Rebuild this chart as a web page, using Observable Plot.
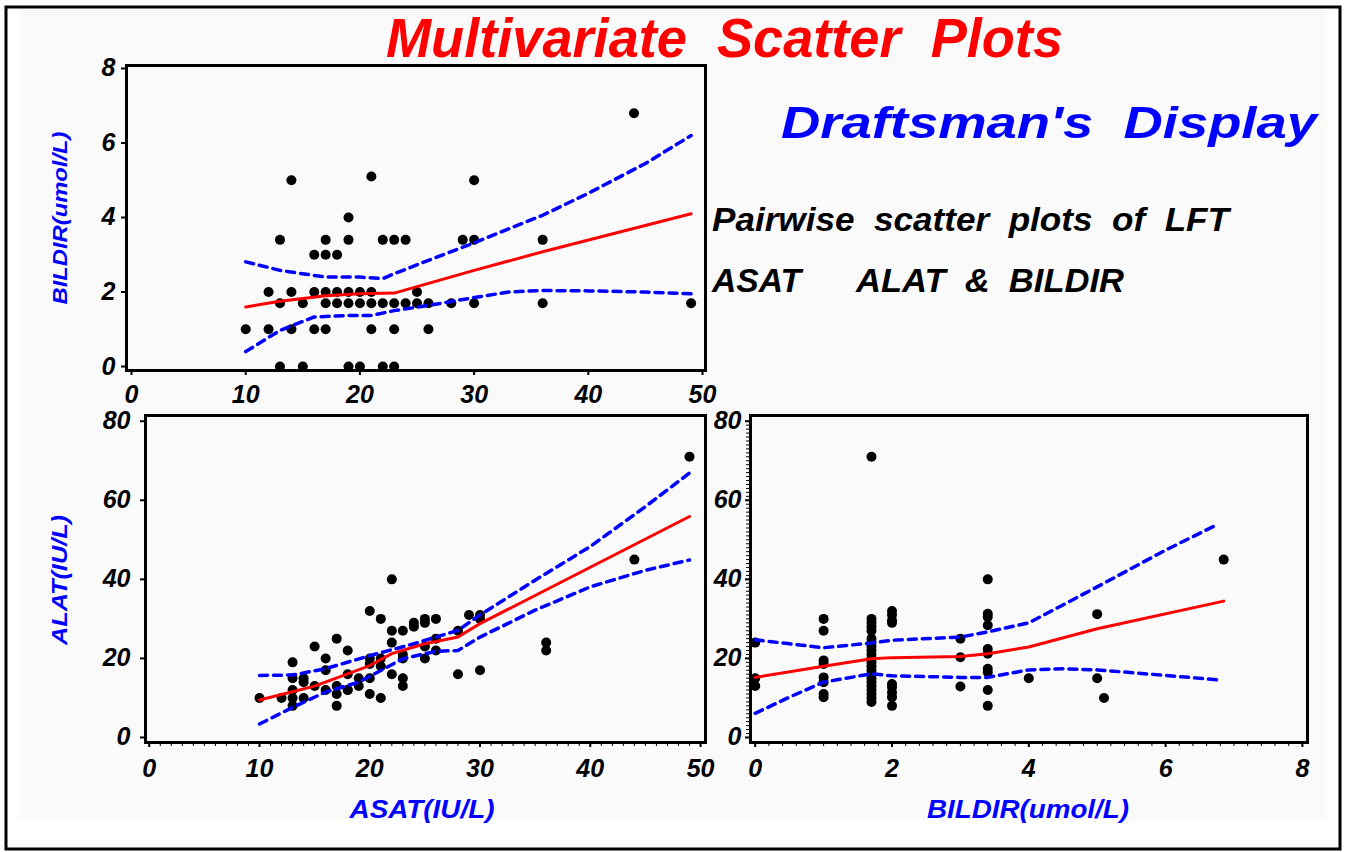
<!DOCTYPE html>
<html><head><meta charset="utf-8">
<script src="https://cdn.jsdelivr.net/npm/d3@7"></script>
<script src="https://cdn.jsdelivr.net/npm/@observablehq/plot@0.6"></script>
<style>
body{margin:0;background:#fff;}
#page{position:relative;width:1345px;height:852px;overflow:hidden;background:#fff;}
#page svg{position:absolute;}
#page svg.panel text{font-size:25px !important;font-weight:bold !important;font-style:italic !important;font-family:'Liberation Sans',Arial,sans-serif !important;fill:#000 !important;}
</style></head><body><div id="page"></div>
<script>
// ---------- DATA ----------
// Panel 1: ASAT (x) vs BILDIR (y)
const p1_asat   = [44, 14,30, 21, 19,
  13,17,19,22,23,24,29,30,36,
  16,17,18,
  12,14,16,17,18,19,20,21,25,
  13,15,17,18,19,20,21,22,23,24,25,26,28,30,36,49,
  10,12,14,16,17,21,23,26,
  13,15,19,20,22,23];
const p1_bildir = [6.8, 5.0,5.0, 5.1, 4.0,
  3.4,3.4,3.4,3.4,3.4,3.4,3.4,3.4,3.4,
  3.0,3.0,3.0,
  2.0,2.0,2.0,2.0,2.0,2.0,2.0,2.0,2.0,
  1.7,1.7,1.7,1.7,1.7,1.7,1.7,1.7,1.7,1.7,1.7,1.7,1.7,1.7,1.7,1.7,
  1.0,1.0,1.0,1.0,1.0,1.0,1.0,1.0,
  0,0,0,0,0,0];
const p1_fitX   = [10, 13, 17, 20, 23, 30, 36, 49];
const p1_fitY   = [1.6, 1.75, 1.9, 1.95, 1.97, 2.58, 3.08, 4.1];
const p1_upX    = [10, 13, 17, 20, 22, 23, 26, 30, 36, 40, 45, 49];
const p1_upY    = [2.81, 2.58, 2.4, 2.4, 2.36, 2.49, 2.85, 3.32, 4.06, 4.65, 5.45, 6.2];
const p1_loX    = [10, 13, 16, 19, 21, 23, 26, 30, 33, 36, 40, 45, 49];
const p1_loY    = [0.4, 0.97, 1.33, 1.37, 1.37, 1.5, 1.64, 1.85, 2.0, 2.04, 2.03, 2.0, 1.95];

// Panel 2: ASAT (x) vs ALAT (y)
const p2_asat = [49,44,22,20,21,29,30,30,26,25,25,24,24,23,22,28,26,22,36,36,15,17,18,16,13,
  20,20,21,21,23,23,25,25,26,28,30,22,23,23,20,19,19,18,18,18,17,17,17,16,16,15,
  14,14,14,13,13,13,13,12,10,20,21];
const p2_alat = [71,45,40,32,30,31,31,30,30,30,29,29,28,27,27,27,25,24,24,22,23,25,22,20,19,
  20,18.6,20,18,21,20,23,20,22,16,17,16,15,13,15,15,13,16,12,12,13,11,8,17,12,13,
  15,14,10,15,12,10,8,10,10,11,10];
const p2_fitX = [10, 15, 20, 22, 25, 28, 30, 49];
const p2_fitY = [9.5, 13, 18.2, 21.2, 23.7, 25.4, 28.8, 55.9];
const p2_upX  = [10, 13, 16, 20, 24, 28, 30, 35, 40, 45, 49];
const p2_upY  = [15.7, 15.8, 17.4, 20.7, 23.7, 27.1, 31.0, 39.8, 48.3, 58.4, 66.9];
const p2_loX  = [10, 13, 16, 19, 23, 26, 28, 30, 35, 40, 45, 49];
const p2_loY  = [3.4, 7.6, 11.5, 14, 19.9, 21.8, 22, 25.4, 32.2, 38.1, 42.3, 44.9];

// Panel 3: BILDIR (x) vs ALAT (y)
const p3_bildir = [0,0,0,
  1,1,1,1,1,1,1,1,
  1.7,1.7,1.7,1.7,1.7,1.7,1.7,1.7,1.7,1.7,1.7,1.7,1.7,1.7,1.7,1.7,1.7,1.7,1.7,1.7,1.7,1.7,
  2,2,2,2,2,2,2,2,2,
  3,3,3,
  3.4,3.4,3.4,3.4,3.4,3.4,3.4,3.4,3.4,3.4,
  4,5,5,5.1,6.85];
const p3_alat = [24,15,13,
  30,27,19.5,18.6,15.2,14,11,10.2,
  71,30,29,28,27,25,24,23,22,21,20,19,18,17,16,15,14,13,12,11,10,9,
  32,31,29.6,29,13.5,12.7,11.4,10.2,8,
  25,20.3,12.9,
  40,31.3,30.5,28.4,22.4,21.2,17.4,16.5,12,8,
  15,31.2,15,10,45];
const p3_fitX = [0, 1, 1.7, 2, 3, 3.4, 4, 5, 6.85];
const p3_fitY = [15.2, 18, 19.9, 20.2, 20.5, 21.2, 22.9, 27.5, 34.5];
const p3_upX  = [0, 0.5, 1, 1.7, 2, 3, 3.4, 4, 5, 6, 6.75];
const p3_upY  = [24.7, 23.7, 22.7, 23.9, 24.6, 25.4, 26.7, 29, 38.1, 47.4, 53.8];
const p3_loX  = [0, 0.5, 1, 1.7, 2, 3, 3.4, 4, 4.5, 5, 6, 6.75];
const p3_loY  = [6.1, 10.2, 14, 16.1, 15.6, 15.2, 15.2, 17.1, 17.4, 17.1, 15.7, 14.6];

const ticksASAT   = [0, 10, 20, 30, 40, 50];
const ticksBILDIR = [0, 2, 4, 6, 8];
const ticksALAT   = [0, 20, 40, 60, 80];

// ---------- HELPERS ----------
const zip = (xs, ys) => xs.map((x, i) => ({x, y: ys[i]}));
const page = document.getElementById("page");
const TICKFONT = "'Liberation Sans', Arial, sans-serif";

function panel(o) {
  const m = {l: 70, r: 15, t: 15, b: 50};
  const w = o.frame[1] - o.frame[0], h = o.frame[3] - o.frame[2];
  const marks = [
    Plot.axisX(o.xTicks, {color: "black", label: null, tickSize: 5, tickPadding: o.xPad, strokeWidth: 2, tickFormat: d => String(d)}),
    Plot.axisY(o.yTicks, {color: "black", label: null, tickSize: 5, tickPadding: o.yPad, strokeWidth: 2, tickFormat: d => String(d)}),
  ];
  if (o.xMinor) marks.push(Plot.axisX(o.xMinor, {tickSize: 4, fill: "none", stroke: "black", strokeWidth: 1, label: null}));
  if (o.yMinor) marks.push(Plot.axisY(o.yMinor, {tickSize: 4, fill: "none", stroke: "black", strokeWidth: 1, label: null}));
  marks.push(
    Plot.dot(o.points, {x: "x", y: "y", r: 5, fill: "black", stroke: "none"}),
    Plot.line(o.upper, {x: "x", y: "y", stroke: "#0000ff", strokeWidth: 3.5, strokeDasharray: "8,6"}),
    Plot.line(o.lower, {x: "x", y: "y", stroke: "#0000ff", strokeWidth: 3.5, strokeDasharray: "8,6"}),
    Plot.line(o.fit, {x: "x", y: "y", stroke: "#ff0000", strokeWidth: 3}),
    Plot.frame({stroke: "black", strokeWidth: 3})
  );
  const svg = Plot.plot({
    width: w + m.l + m.r, height: h + m.t + m.b,
    marginLeft: m.l, marginRight: m.r, marginTop: m.t, marginBottom: m.b,
    x: {domain: o.xDomain, axis: null},
    y: {domain: o.yDomain, axis: null},
    style: {background: "transparent", overflow: "visible"},
    marks
  });
  svg.classList.add("panel");
  svg.style.left = (o.frame[0] - m.l) + "px";
  svg.style.top = (o.frame[2] - m.t) + "px";
  page.appendChild(svg);
}

// ---------- BACKGROUND & TEXT ----------
const bg = d3.select(page).append("svg").attr("width", 1345).attr("height", 852).style("left", "0px").style("top", "0px");
bg.append("rect").attr("x", 20).attr("y", 8).attr("width", 1307).attr("height", 811).attr("fill", "#fafafa");
bg.append("rect").attr("x", 6).attr("y", 7).attr("width", 1334).attr("height", 842)
  .attr("fill", "none").attr("stroke", "black").attr("stroke-width", 3);

function txt(s, x, y, size, color, len, opts = {}) {
  const t = bg.append("text").text(s).attr("x", x).attr("y", y)
    .attr("font-family", opts.family || TICKFONT).attr("font-size", size)
    .attr("font-weight", "bold").attr("font-style", "italic").attr("fill", color)
    .attr("textLength", len).attr("lengthAdjust", "spacingAndGlyphs")
    .style("white-space", "pre");
  if (opts.anchor) t.attr("text-anchor", opts.anchor);
  if (opts.transform) t.attr("transform", opts.transform).attr("x", 0).attr("y", 0);
  return t;
}
txt("Multivariate  Scatter  Plots", 386, 57, 56, "#ff0000", 677, {family: "'Liberation Sans Narrow', 'Liberation Sans', Arial, sans-serif"});
txt("Draftsman's  Display", 781, 138, 44, "#0000ff", 536);
txt("Pairwise  scatter  plots  of  LFT", 712, 231, 33, "black", 517);
txt("ASAT", 712, 292, 33, "black", 89);
txt("ALAT  &  BILDIR", 856, 292, 33, "black", 268);
txt("BILDIR(umol/L)", 0, 0, 21, "#0000ff", 173, {anchor: "middle", transform: "translate(67,218) rotate(-90)"});
txt("ALAT(IU/L)", 0, 0, 22, "#0000ff", 130, {anchor: "middle", transform: "translate(67,580) rotate(-90)"});
txt("ASAT(IU/L)", 422, 818, 25, "#0000ff", 145, {anchor: "middle"});
txt("BILDIR(umol/L)", 1028, 818, 25, "#0000ff", 202, {anchor: "middle"});

// ---------- PANELS ----------
panel({
  frame: [126, 705, 65, 370],
  xDomain: [-0.44, 50.26], yDomain: [-0.107, 8.08],
  xTicks: ticksASAT, yTicks: ticksBILDIR, xPad: 10, yPad: 6,
  points: zip(p1_asat, p1_bildir),
  fit: zip(p1_fitX, p1_fitY), upper: zip(p1_upX, p1_upY), lower: zip(p1_loX, p1_loY)
});
panel({
  frame: [145, 705, 415, 742],
  xDomain: [-0.34, 50.45], yDomain: [-1.27, 81.45],
  xTicks: ticksASAT, yTicks: ticksALAT, xPad: 12, yPad: 10,
  xMinor: d3.range(0, 51, 1),
  points: zip(p2_asat, p2_alat),
  fit: zip(p2_fitX, p2_fitY), upper: zip(p2_upX, p2_upY), lower: zip(p2_loX, p2_loY)
});
panel({
  frame: [750, 1307, 415, 742],
  xDomain: [-0.069, 8.075], yDomain: [-1.27, 81.45],
  xTicks: ticksBILDIR, yTicks: ticksALAT, xPad: 12, yPad: 4,
  xMinor: d3.range(0, 8.01, 0.2), yMinor: d3.range(0, 81, 1),
  points: zip(p3_bildir, p3_alat),
  fit: zip(p3_fitX, p3_fitY), upper: zip(p3_upX, p3_upY), lower: zip(p3_loX, p3_loY)
});
</script></body></html>
